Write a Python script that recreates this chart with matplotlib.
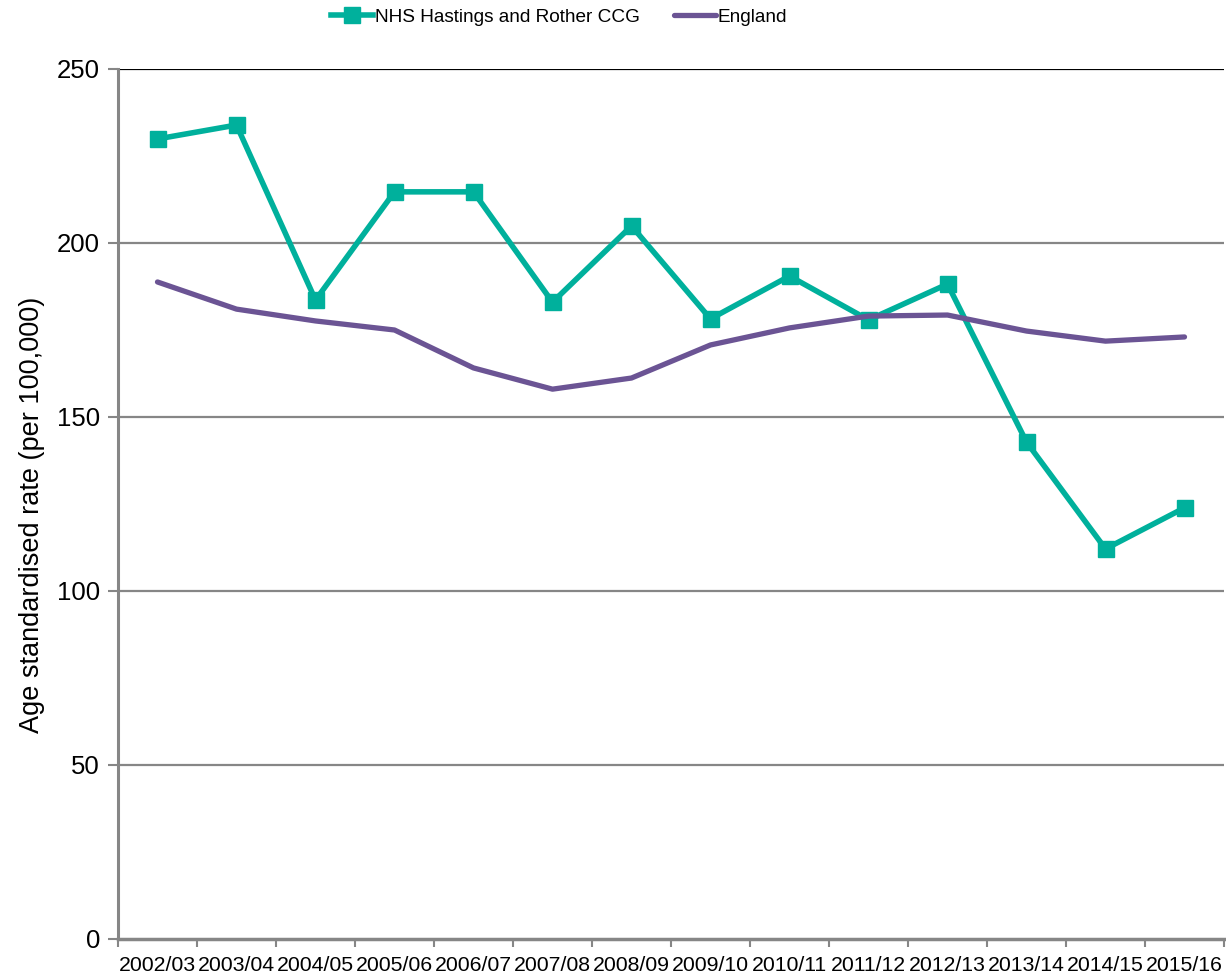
import matplotlib
matplotlib.use('Agg')
import matplotlib.pyplot as plt
import numpy as np

plt.rcParams['font.family'] = ['Liberation Sans', 'DejaVu Sans']

years = ['2002/03', '2003/04', '2004/05', '2005/06', '2006/07', '2007/08', '2008/09',
         '2009/10', '2010/11', '2011/12', '2012/13', '2013/14', '2014/15', '2015/16']
nhs = [229.9, 233.9, 183.6, 214.7, 214.7, 183.0, 204.9,
       178.2, 190.5, 177.9, 188.2, 142.8, 112.1, 123.9]
england = [188.8, 181.0, 177.6, 175.0, 164.1, 158.0, 161.2,
           170.7, 175.6, 179.0, 179.3, 174.7, 171.8, 173.0]

teal = '#00B09C'
purple = '#6B5494'
grey = '#868686'

fig = plt.figure(figsize=(12.26, 9.77), dpi=100)
ax = fig.add_axes([118/1226, 1-939/977, 1106/1226, 870/977])

x = np.arange(len(years))
ax.plot(x, nhs, color=teal, lw=4, marker='s', ms=11, label='NHS Hastings and Rother CCG', zorder=3)
ax.plot(x, england, color=purple, lw=3.8, label='England', zorder=3, solid_capstyle='round')

ax.set_xlim(-0.5, len(years)-0.5)
ax.set_ylim(0, 250)
ax.set_yticks([0, 50, 100, 150, 200, 250])
for v in [50, 100, 150, 200]:
    ax.axhline(v, color=grey, lw=1.6, zorder=1)
ax.axhline(250, color='black', lw=1.6, zorder=1)

ax.set_xticks(x)
ax.set_xticklabels(years, fontsize=15.3)
ax.set_xticks(np.arange(len(years)+1)-0.5, minor=True)
ax.tick_params(axis='x', which='major', length=0, pad=12)
ax.tick_params(axis='x', which='minor', length=6, width=1.5, color=grey)
ax.tick_params(axis='y', length=7, width=1.5, color=grey, labelsize=18.5, pad=6)

for s in ['top', 'right']:
    ax.spines[s].set_visible(False)
ax.spines['left'].set_color(grey)
ax.spines['left'].set_linewidth(2.2)
ax.spines['bottom'].set_color(grey)
ax.spines['bottom'].set_linewidth(2.5)

ax.set_ylabel('Age standardised rate (per 100,000)', fontsize=19.5)
ax.yaxis.set_label_coords(-0.066, 0.487)

fig.legend(loc='center', bbox_to_anchor=(0.456, 1-17/977), ncol=2, frameon=False,
           fontsize=13.7, handlelength=2.2, handletextpad=0.1, columnspacing=1.8)

fig.savefig('out.png', dpi=100)
